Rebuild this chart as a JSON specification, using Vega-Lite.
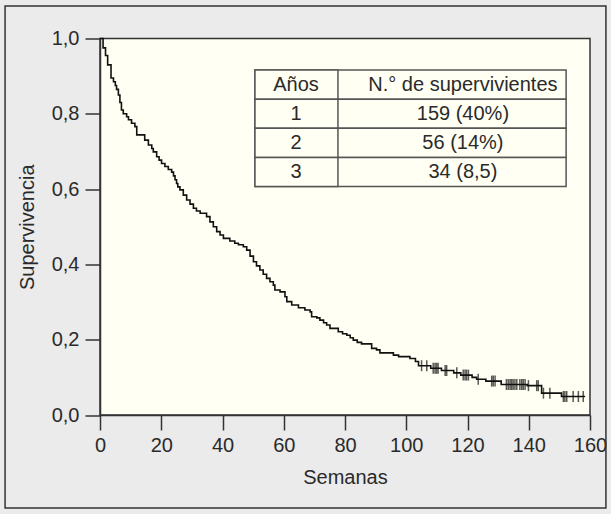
{
  "$schema": "https://vega.github.io/schema/vega-lite/v6.json",
  "width": 490,
  "height": 376.5,
  "autosize": {"type": "none"},
  "padding": {"left": 100, "top": 38.5, "right": 21, "bottom": 99},
  "background": "#ebebeb",
  "config": {
    "font": "Liberation Sans",
    "view": {"fill": "#fffff3", "stroke": "#333333", "strokeWidth": 1.5},
    "axis": {
      "grid": false,
      "labelFlush": false,
      "labelOverlap": false,
      "domainColor": "#333333",
      "domainWidth": 1.5,
      "tickColor": "#333333",
      "tickWidth": 1.5,
      "tickSize": 15,
      "labelColor": "#2a2a2a",
      "labelFont": "Liberation Sans",
      "labelFontSize": 20,
      "titleFont": "Liberation Sans",
      "titleFontSize": 20,
      "titleFontWeight": "normal",
      "titleColor": "#2a2a2a"
    }
  },
  "datasets": {
    "km": [
      {"t": 0, "s": 1.0}, {"t": 1.0, "s": 0.975}, {"t": 1.8, "s": 0.955}, {"t": 2.5, "s": 0.93},
      {"t": 3.6, "s": 0.895}, {"t": 4.4, "s": 0.885}, {"t": 5.0, "s": 0.875}, {"t": 5.4, "s": 0.865},
      {"t": 6.0, "s": 0.85}, {"t": 6.5, "s": 0.83}, {"t": 7.0, "s": 0.81}, {"t": 7.6, "s": 0.8},
      {"t": 8.7, "s": 0.792}, {"t": 9.3, "s": 0.784}, {"t": 10.3, "s": 0.775}, {"t": 11.4, "s": 0.766},
      {"t": 12.0, "s": 0.744}, {"t": 14.6, "s": 0.73}, {"t": 15.8, "s": 0.717}, {"t": 16.9, "s": 0.708},
      {"t": 17.4, "s": 0.699}, {"t": 18.5, "s": 0.686}, {"t": 19.3, "s": 0.677}, {"t": 20.1, "s": 0.668},
      {"t": 21.2, "s": 0.66}, {"t": 22.3, "s": 0.652}, {"t": 23.4, "s": 0.645}, {"t": 24.0, "s": 0.635},
      {"t": 24.5, "s": 0.625}, {"t": 25.0, "s": 0.615}, {"t": 25.4, "s": 0.606}, {"t": 26.1, "s": 0.598},
      {"t": 27.2, "s": 0.584}, {"t": 28.3, "s": 0.571}, {"t": 29.4, "s": 0.56}, {"t": 30.5, "s": 0.549},
      {"t": 31.5, "s": 0.542}, {"t": 32.7, "s": 0.536}, {"t": 34.8, "s": 0.527}, {"t": 35.9, "s": 0.513},
      {"t": 37.0, "s": 0.5}, {"t": 38.1, "s": 0.487}, {"t": 39.2, "s": 0.478}, {"t": 40.3, "s": 0.469},
      {"t": 42.4, "s": 0.462}, {"t": 44.0, "s": 0.456}, {"t": 45.2, "s": 0.452}, {"t": 46.8, "s": 0.447},
      {"t": 47.9, "s": 0.438}, {"t": 49.0, "s": 0.422}, {"t": 50.1, "s": 0.407}, {"t": 51.1, "s": 0.396},
      {"t": 52.2, "s": 0.385}, {"t": 53.3, "s": 0.374}, {"t": 54.4, "s": 0.363}, {"t": 55.5, "s": 0.354},
      {"t": 56.6, "s": 0.345}, {"t": 57.1, "s": 0.332}, {"t": 58.8, "s": 0.327}, {"t": 60.4, "s": 0.314},
      {"t": 61.0, "s": 0.301}, {"t": 62.6, "s": 0.292}, {"t": 64.8, "s": 0.285}, {"t": 66.9, "s": 0.279},
      {"t": 68.6, "s": 0.274}, {"t": 69.1, "s": 0.261}, {"t": 70.8, "s": 0.258}, {"t": 71.8, "s": 0.252},
      {"t": 73.0, "s": 0.245}, {"t": 74.0, "s": 0.239}, {"t": 75.1, "s": 0.23}, {"t": 77.8, "s": 0.221},
      {"t": 79.2, "s": 0.216}, {"t": 80.6, "s": 0.212}, {"t": 81.7, "s": 0.205}, {"t": 82.7, "s": 0.199},
      {"t": 84.0, "s": 0.193}, {"t": 85.4, "s": 0.189}, {"t": 88.7, "s": 0.177}, {"t": 90.3, "s": 0.173},
      {"t": 91.4, "s": 0.165}, {"t": 95.8, "s": 0.159}, {"t": 97.5, "s": 0.155}, {"t": 101.2, "s": 0.15},
      {"t": 103.0, "s": 0.142}, {"t": 104.0, "s": 0.131}, {"t": 108.0, "s": 0.124}, {"t": 111.5, "s": 0.118},
      {"t": 115.5, "s": 0.112}, {"t": 117.8, "s": 0.106}, {"t": 121.5, "s": 0.1}, {"t": 123.0, "s": 0.095},
      {"t": 126.0, "s": 0.09}, {"t": 131.0, "s": 0.081}, {"t": 139.5, "s": 0.078}, {"t": 144.2, "s": 0.058},
      {"t": 150.7, "s": 0.049}, {"t": 158.4, "s": 0.049}
    ],
    "cens": [
      {"t": 105.0, "s": 0.131}, {"t": 106.7, "s": 0.131}, {"t": 108.8, "s": 0.124}, {"t": 109.4, "s": 0.124},
      {"t": 109.9, "s": 0.124}, {"t": 110.4, "s": 0.124}, {"t": 112.7, "s": 0.118}, {"t": 113.2, "s": 0.118},
      {"t": 116.5, "s": 0.112}, {"t": 118.6, "s": 0.106}, {"t": 119.2, "s": 0.106}, {"t": 119.7, "s": 0.106},
      {"t": 120.3, "s": 0.106}, {"t": 123.5, "s": 0.095}, {"t": 127.9, "s": 0.09}, {"t": 128.4, "s": 0.09},
      {"t": 129.0, "s": 0.09}, {"t": 132.7, "s": 0.081}, {"t": 133.3, "s": 0.081}, {"t": 133.9, "s": 0.081},
      {"t": 134.4, "s": 0.081}, {"t": 134.9, "s": 0.081}, {"t": 135.5, "s": 0.081}, {"t": 136.1, "s": 0.081},
      {"t": 137.1, "s": 0.081}, {"t": 137.7, "s": 0.081}, {"t": 138.2, "s": 0.081}, {"t": 138.8, "s": 0.081},
      {"t": 139.9, "s": 0.078}, {"t": 142.6, "s": 0.078}, {"t": 143.1, "s": 0.078}, {"t": 144.8, "s": 0.058},
      {"t": 146.9, "s": 0.058}, {"t": 151.3, "s": 0.049}, {"t": 151.8, "s": 0.049}, {"t": 152.4, "s": 0.049},
      {"t": 154.5, "s": 0.049}, {"t": 156.2, "s": 0.049}, {"t": 157.8, "s": 0.049}
    ],
    "tabla": [
      {"fila": "h", "a": "Años", "n": "N.° de supervivientes"},
      {"fila": "1", "a": "1", "n": "159 (40%)"},
      {"fila": "2", "a": "2", "n": "56 (14%)"},
      {"fila": "3", "a": "3", "n": "34 (8,5)"}
    ]
  },
  "layer": [
    {
      "layer": [
        {
          "data": {"values": [{}]},
          "mark": {"type": "rect", "fill": null, "stroke": "#333333", "strokeWidth": 1.5},
          "encoding": {
            "x": {"datum": -31.0, "type": "quantitative"},
            "x2": {"datum": 165.2},
            "y": {"datum": 1.0863, "type": "quantitative"},
            "y2": {"datum": -0.247}
          }
        },
        {
          "data": {"name": "km"},
          "mark": {"type": "line", "interpolate": "step-after", "color": "#111111", "strokeWidth": 1.6},
          "encoding": {
            "x": {
              "field": "t", "type": "quantitative",
              "scale": {"domain": [0, 160], "nice": false, "zero": false},
              "axis": {"values": [0, 20, 40, 60, 80, 100, 120, 140, 160], "title": "Semanas", "labelPadding": 5, "titlePadding": 12}
            },
            "y": {
              "field": "s", "type": "quantitative",
              "scale": {"domain": [0, 1], "nice": false},
              "axis": {
                "values": [0, 0.2, 0.4, 0.6, 0.8, 1],
                "labelExpr": "replace(format(datum.value, '.1f'), '.', ',')",
                "title": "Supervivencia", "labelPadding": 6, "titlePadding": 14
              }
            }
          }
        },
        {
          "data": {"name": "cens"},
          "mark": {"type": "tick", "orient": "vertical", "color": "#111111", "thickness": 1.5, "size": 11},
          "encoding": {
            "x": {"field": "t", "type": "quantitative"},
            "y": {"field": "s", "type": "quantitative"}
          }
        }
      ]
    },
    {
      "data": {"name": "tabla"},
      "encoding": {
        "y": {
          "field": "fila", "type": "ordinal",
          "scale": {"type": "band", "domain": ["h", "1", "2", "3"], "range": [31.5, 148], "paddingInner": 0, "paddingOuter": 0},
          "axis": null
        }
      },
      "layer": [
        {
          "mark": {"type": "rect", "fill": "#fffff3", "stroke": "#555555", "strokeWidth": 1.5},
          "encoding": {"x": {"datum": 50.6, "type": "quantitative"}, "x2": {"datum": 152.2}}
        },
        {
          "mark": {"type": "rect", "fill": "#fffff3", "stroke": "#555555", "strokeWidth": 1.5},
          "encoding": {"x": {"datum": 50.6, "type": "quantitative"}, "x2": {"datum": 77.7}}
        },
        {
          "mark": {"type": "text", "font": "Liberation Sans", "fontSize": 20, "color": "#2a2a2a", "align": "center", "baseline": "middle"},
          "encoding": {"x": {"datum": 64.0, "type": "quantitative"}, "text": {"field": "a"}}
        },
        {
          "mark": {"type": "text", "font": "Liberation Sans", "fontSize": 20, "color": "#2a2a2a", "align": "center", "baseline": "middle"},
          "encoding": {"x": {"datum": 118.5, "type": "quantitative"}, "text": {"field": "n"}}
        }
      ]
    }
  ],
  "resolve": {"scale": {"y": "independent"}}
}
